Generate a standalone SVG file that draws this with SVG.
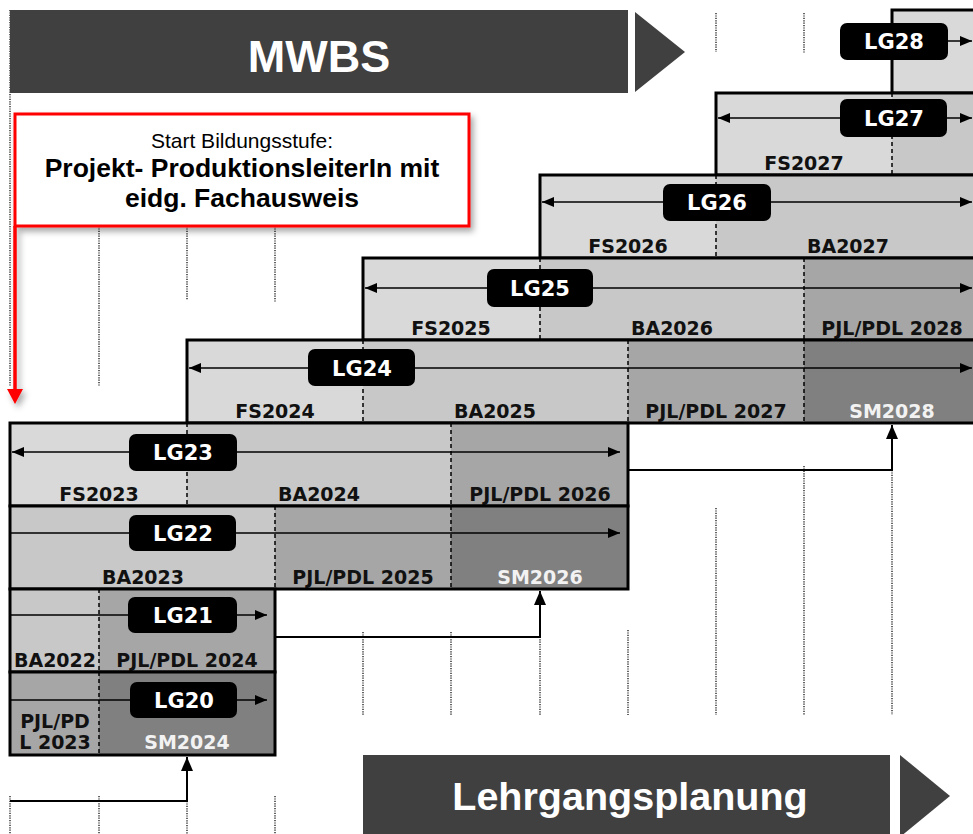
<svg xmlns="http://www.w3.org/2000/svg" width="973" height="834" viewBox="0 0 973 834">
<style>
.fs{fill:#d9d9d9}.ba{fill:#c8c8c8}.pj{fill:#a6a6a6}.sm{fill:#808080}
.box{fill:none;stroke:#000;stroke-width:3}
.div{stroke:#000;stroke-width:1.5;stroke-dasharray:4 3;fill:none}
.guide{stroke:#333;stroke-width:1.5;stroke-dasharray:1.2 1.2;fill:none}
.arr{stroke:#000;stroke-width:1.5;fill:none}
.con{stroke:#000;stroke-width:2;fill:none}
.pill{fill:#000}
.pt{font-family:"DejaVu Sans",sans-serif;font-weight:bold;font-size:21px;fill:#fff;text-anchor:middle}
.lb{font-family:"DejaVu Sans",sans-serif;font-weight:bold;font-size:19px;fill:#111;text-anchor:middle}
.lw{fill:#f2f2f2}
.ban{fill:#404040}
.bt{font-family:"Liberation Sans",Arial,sans-serif;font-weight:bold;fill:#fff;text-anchor:middle}
.ct{font-family:"Liberation Sans",Arial,sans-serif;fill:#000;text-anchor:middle}
</style>
<defs>
<marker id="ah" viewBox="0 0 12 10" markerWidth="12" markerHeight="10" refX="12" refY="5" orient="auto-start-reverse" markerUnits="userSpaceOnUse"><path d="M0,0 L12,5 L0,10 z" fill="#000"/></marker>
<marker id="au" viewBox="0 0 14 12" markerWidth="14" markerHeight="12" refX="14" refY="6" orient="auto" markerUnits="userSpaceOnUse"><path d="M0,0 L14,6 L0,12 z" fill="#000"/></marker>
<filter id="sh" x="-10%" y="-10%" width="130%" height="140%"><feDropShadow dx="3" dy="4" stdDeviation="3" flood-color="#000" flood-opacity="0.35"/></filter>
</defs>
<rect width="973" height="834" fill="#fff"/>

<g id="guides">
<line class="guide" x1="10" y1="10" x2="10" y2="386"/>
<line class="guide" x1="99" y1="226" x2="99" y2="386"/>
<line class="guide" x1="187" y1="226" x2="187" y2="300"/>
<line class="guide" x1="275" y1="226" x2="275" y2="302"/>
<line class="guide" x1="716" y1="13" x2="716" y2="52"/>
<line class="guide" x1="804" y1="13" x2="804" y2="53"/>
<line class="guide" x1="363" y1="632" x2="363" y2="715"/>
<line class="guide" x1="451" y1="632" x2="451" y2="715"/>
<line class="guide" x1="540" y1="632" x2="540" y2="715"/>
<line class="guide" x1="628" y1="630" x2="628" y2="715"/>
<line class="guide" x1="716" y1="508" x2="716" y2="715"/>
<line class="guide" x1="804" y1="466" x2="804" y2="715"/>
<line class="guide" x1="892" y1="470" x2="892" y2="715"/>
<line class="guide" x1="10" y1="796" x2="10" y2="834"/>
<line class="guide" x1="99" y1="796" x2="99" y2="834"/>
<line class="guide" x1="187" y1="801" x2="187" y2="834"/>
<line class="guide" x1="275" y1="796" x2="275" y2="834"/>
</g>

<g id="mwbs">
<rect class="ban" x="10" y="10" width="618" height="83"/>
<polygon class="ban" points="635,12 685,52 635,92"/>
<text class="bt" x="319" y="72" font-size="45">MWBS</text>
</g>

<g id="lehrgangsplanung">
<rect class="ban" x="363" y="755" width="527" height="85"/>
<polygon class="ban" points="900,755 950,796 900,837"/>
<text class="bt" x="630" y="810" font-size="39.5">Lehrgangsplanung</text>
</g>

<g id="LG28">
<rect class="fs" x="892" y="10" width="93" height="83"/>
<rect class="box" x="892" y="10" width="93" height="83"/>
<line class="arr" x1="940" y1="41" x2="972" y2="41" marker-end="url(#ah)"/>
<rect class="pill" x="840" y="23" width="108" height="37" rx="7"/>
<text class="pt" x="894" y="49">LG28</text>
</g>

<g id="LG27">
<rect class="fs" x="716" y="93" width="176" height="82"/>
<rect class="ba" x="892" y="93" width="93" height="82"/>
<line class="div" x1="892" y1="93" x2="892" y2="175"/>
<rect class="box" x="716" y="93" width="269" height="82"/>
<line class="arr" x1="718" y1="118" x2="972" y2="118" marker-start="url(#ah)" marker-end="url(#ah)"/>
<rect class="pill" x="840" y="99" width="107" height="38" rx="7"/>
<text class="pt" x="894" y="126">LG27</text>
<text class="lb" x="804" y="170">FS2027</text>
</g>

<g id="LG26">
<rect class="fs" x="540" y="175" width="176" height="83"/>
<rect class="ba" x="716" y="175" width="269" height="83"/>
<line class="div" x1="716" y1="175" x2="716" y2="258"/>
<rect class="box" x="540" y="175" width="445" height="83"/>
<line class="arr" x1="542" y1="202" x2="972" y2="202" marker-start="url(#ah)" marker-end="url(#ah)"/>
<rect class="pill" x="663" y="184" width="108" height="37" rx="7"/>
<text class="pt" x="717" y="210">LG26</text>
<text class="lb" x="628" y="253">FS2026</text>
<text class="lb" x="848" y="253">BA2027</text>
</g>

<g id="LG25">
<rect class="fs" x="363" y="258" width="177" height="82"/>
<rect class="ba" x="540" y="258" width="264" height="82"/>
<rect class="pj" x="804" y="258" width="181" height="82"/>
<line class="div" x1="540" y1="258" x2="540" y2="340"/>
<line class="div" x1="804" y1="258" x2="804" y2="340"/>
<rect class="box" x="363" y="258" width="622" height="82"/>
<line class="arr" x1="365" y1="288" x2="972" y2="288" marker-start="url(#ah)" marker-end="url(#ah)"/>
<rect class="pill" x="487" y="269" width="106" height="38" rx="7"/>
<text class="pt" x="540" y="296">LG25</text>
<text class="lb" x="451" y="335">FS2025</text>
<text class="lb" x="672" y="335">BA2026</text>
<text class="lb" x="892" y="335">PJL/PDL 2028</text>
</g>

<g id="LG24">
<rect class="fs" x="187" y="340" width="176" height="83"/>
<rect class="ba" x="363" y="340" width="265" height="83"/>
<rect class="pj" x="628" y="340" width="176" height="83"/>
<rect class="sm" x="804" y="340" width="181" height="83"/>
<line class="div" x1="363" y1="340" x2="363" y2="423"/>
<line class="div" x1="628" y1="340" x2="628" y2="423"/>
<line class="div" x1="804" y1="340" x2="804" y2="423"/>
<rect class="box" x="187" y="340" width="798" height="83"/>
<line class="arr" x1="189" y1="368" x2="972" y2="368" marker-start="url(#ah)" marker-end="url(#ah)"/>
<rect class="pill" x="308" y="349" width="107" height="37" rx="7"/>
<text class="pt" x="362" y="376">LG24</text>
<text class="lb" x="275" y="418">FS2024</text>
<text class="lb" x="495" y="418">BA2025</text>
<text class="lb" x="716" y="418">PJL/PDL 2027</text>
<text class="lb lw" x="892" y="418">SM2028</text>
</g>

<g id="LG23">
<rect class="fs" x="10" y="423" width="177" height="83"/>
<rect class="ba" x="187" y="423" width="264" height="83"/>
<rect class="pj" x="451" y="423" width="177" height="83"/>
<line class="div" x1="187" y1="423" x2="187" y2="506"/>
<line class="div" x1="451" y1="423" x2="451" y2="506"/>
<rect class="box" x="10" y="423" width="618" height="83"/>
<line class="arr" x1="12" y1="452" x2="620" y2="452" marker-start="url(#ah)" marker-end="url(#ah)"/>
<rect class="pill" x="129" y="434" width="108" height="37" rx="7"/>
<text class="pt" x="183" y="460">LG23</text>
<text class="lb" x="99" y="501">FS2023</text>
<text class="lb" x="319" y="501">BA2024</text>
<text class="lb" x="540" y="501">PJL/PDL 2026</text>
</g>

<g id="LG22">
<rect class="ba" x="10" y="506" width="265" height="83"/>
<rect class="pj" x="275" y="506" width="176" height="83"/>
<rect class="sm" x="451" y="506" width="177" height="83"/>
<line class="div" x1="275" y1="506" x2="275" y2="589"/>
<line class="div" x1="451" y1="506" x2="451" y2="589"/>
<rect class="box" x="10" y="506" width="618" height="83"/>
<line class="arr" x1="10" y1="533" x2="620" y2="533" marker-end="url(#ah)"/>
<rect class="pill" x="129" y="515" width="107" height="36" rx="7"/>
<text class="pt" x="183" y="541">LG22</text>
<text class="lb" x="143" y="584">BA2023</text>
<text class="lb" x="363" y="584">PJL/PDL 2025</text>
<text class="lb lw" x="540" y="584">SM2026</text>
</g>

<g id="LG21">
<rect class="ba" x="10" y="589" width="89" height="83"/>
<rect class="pj" x="99" y="589" width="176" height="83"/>
<line class="div" x1="99" y1="589" x2="99" y2="672"/>
<rect class="box" x="10" y="589" width="265" height="83"/>
<line class="arr" x1="10" y1="615" x2="267" y2="615" marker-end="url(#ah)"/>
<rect class="pill" x="128" y="597" width="109" height="36" rx="7"/>
<text class="pt" x="183" y="623">LG21</text>
<text class="lb" x="55" y="667">BA2022</text>
<text class="lb" x="187" y="667">PJL/PDL 2024</text>
</g>

<g id="LG20">
<rect class="pj" x="10" y="672" width="89" height="83"/>
<rect class="sm" x="99" y="672" width="176" height="83"/>
<line class="div" x1="99" y1="672" x2="99" y2="755"/>
<rect class="box" x="10" y="672" width="265" height="83"/>
<line class="arr" x1="10" y1="700" x2="267" y2="700" marker-end="url(#ah)"/>
<rect class="pill" x="130" y="682" width="107" height="36" rx="7"/>
<text class="pt" x="184" y="708">LG20</text>
<text class="lb" x="55" y="728">PJL/PD</text>
<text class="lb" x="55" y="749">L 2023</text>
<text class="lb lw" x="187" y="749">SM2024</text>
</g>

<g id="connectors">
<polyline class="con" points="628,470 892,470 892,425" marker-end="url(#au)"/>
<polyline class="con" points="275,637 540,637 540,591" marker-end="url(#au)"/>
<polyline class="con" points="10,801 187,801 187,757" marker-end="url(#au)"/>
</g>

<g id="callout" filter="url(#sh)">
<line x1="15" y1="226" x2="15" y2="392" stroke="#ff0000" stroke-width="3.5"/>
<polygon points="7,389 23,389 15,404" fill="#ff0000"/>
<rect x="15" y="114" width="454" height="112" fill="#fff" stroke="#ff0000" stroke-width="3"/>
</g>
<g id="callout-text">
<text class="ct" x="242" y="148" font-size="21">Start Bildungsstufe:</text>
<text class="ct" x="242" y="177" font-size="26.5" font-weight="bold">Projekt- ProduktionsleiterIn mit</text>
<text class="ct" x="242" y="207" font-size="26.5" font-weight="bold">eidg. Fachausweis</text>
</g>
</svg>
